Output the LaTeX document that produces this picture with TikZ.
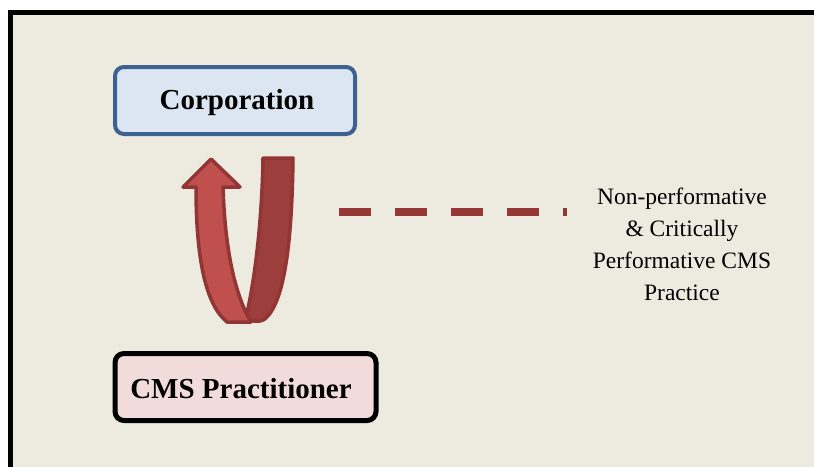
\documentclass[tikz,border=0pt]{standalone}
\usepackage{fontspec}
\setmainfont{Liberation Serif}
\definecolor{bgbeige}{RGB}{237,234,224}
\definecolor{corpfill}{RGB}{220,230,242}
\definecolor{corpline}{RGB}{61,97,145}
\definecolor{cmsfill}{RGB}{242,220,219}
\definecolor{redline}{RGB}{149,55,53}
\definecolor{lightred}{RGB}{192,80,77}
\definecolor{darkred}{RGB}{155,62,60}
\definecolor{arrowedge}{RGB}{145,54,52}
\tikzset{
  boxbase/.style={rounded corners=9pt, minimum height=67pt, inner sep=0pt, font=\fontsize{29}{34}\selectfont\bfseries},
  corpbox/.style={boxbase, draw=corpline, fill=corpfill, line width=4pt, minimum width=240pt},
  cmsbox/.style={boxbase, draw=black, fill=cmsfill, line width=5pt, minimum width=261pt},
  bandedge/.style={draw=arrowedge, line width=3.5pt, line join=round},
  dashlink/.style={draw=redline, line width=8pt, dash pattern=on 32pt off 24pt},
  notetext/.style={align=center, font=\fontsize{23.5}{32}\selectfont}
}
\begin{document}
\begin{tikzpicture}[x=1pt,y=-1pt]
\useasboundingbox (0,0) rectangle (814,466);
\clip (0,0) rectangle (814,466);
\fill[white] (0,0) rectangle (814,466);
\draw[line width=5pt, fill=bgbeige] (10.5,12.5) rectangle (840,490);
% boxes
\node[corpbox] (corp) at (235,100.5) {};
\node[font=\fontsize{29}{34}\selectfont\bfseries] (corplabel) at (237,103) {Corporation};
\node[cmsbox] (cms) at (245.5,387) {};
\node[font=\fontsize{29}{34}\selectfont\bfseries] (cmslabel) at (241,389) {CMS Practitioner};
% U-turn arrow: back (dark) band
\path[bandedge, fill=darkred] (263,158) -- (293,158)
  .. controls (292,240) and (285,300) .. (266,318)
  .. controls (262,322) and (252,323) .. (246,317)
  .. controls (255,280) and (262,220) .. (263,158) -- cycle;
% front (light) band with head
\path[bandedge, fill=lightred] (183,187) -- (211,159) -- (240,187) -- (223,187)
  .. controls (225,250) and (235,295) .. (251,322)
  -- (227,322)
  .. controls (206,305) and (196,260) .. (196,187) -- cycle;
% note
\node[notetext] (note) at (682,244) {Non-performative\\\& Critically\\Performative CMS\\Practice};
\coordinate (dashstart) at (339,212);
\coordinate (dashend) at (567,212);
\draw[dashlink] (dashstart) -- (dashend);
\end{tikzpicture}
\end{document}
